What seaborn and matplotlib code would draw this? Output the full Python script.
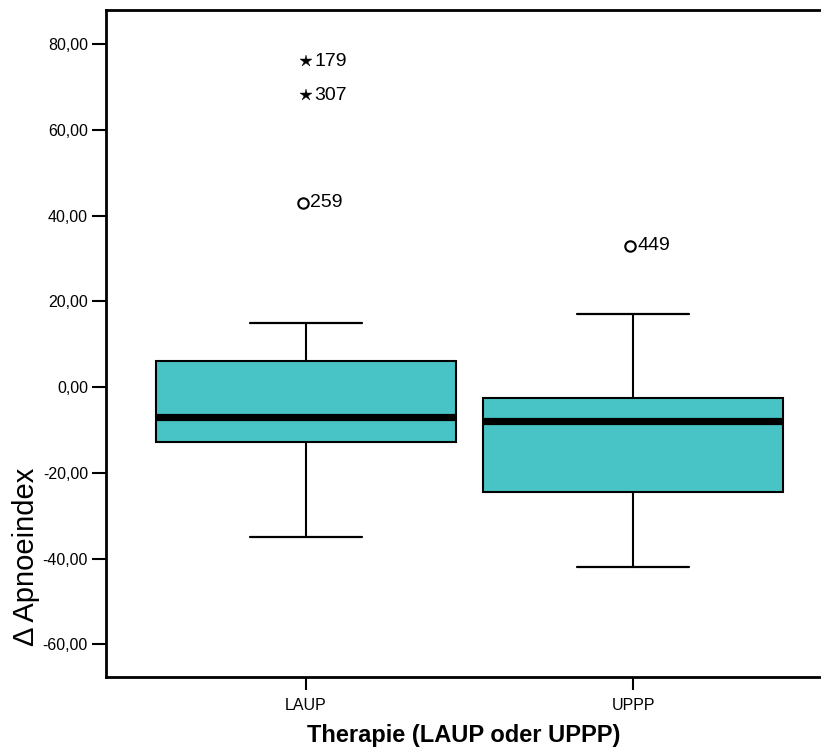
# plot.py
# SPSS-style boxplot: change of apnoea index by therapy (LAUP vs UPPP)

import numpy as np
import pandas as pd
import matplotlib.pyplot as plt
import seaborn as sns
from matplotlib.ticker import FuncFormatter

# Box summaries
groups = ["LAUP", "UPPP"]
whislo = [-35.0, -42.0]
q1 = [-12.9, -24.5]
med = [-7.0, -8.0]
q3 = [6.0, -2.6]
whishi = [15.0, 17.0]

# Outliers (o) and extremes (*) with their case numbers
out_group = ["LAUP", "LAUP", "LAUP", "UPPP"]
out_value = [76.0, 68.0, 43.0, 33.0]
out_case = ["179", "307", "259", "449"]
out_kind = ["extreme", "extreme", "outlier", "outlier"]

yticks = [-60, -40, -20, 0, 20, 40, 60, 80]

sns.set_style("ticks")
plt.rcParams["font.family"] = ["Liberation Sans", "DejaVu Sans"]
for k in ["text.color", "axes.labelcolor", "xtick.color", "ytick.color"]:
    plt.rcParams[k] = "black"

fig = plt.figure(figsize=(8.21, 7.47), dpi=100)
ax = fig.add_axes([0.1291, 0.0937, 0.8709, 0.8929])

stats = [
    {"label": g, "whislo": lo, "q1": a, "med": m, "q3": b, "whishi": hi}
    for g, lo, a, m, b, hi in zip(groups, whislo, q1, med, q3, whishi)
]
pos = np.arange(len(groups))
ax.bxp(
    stats, positions=pos, widths=0.92, capwidths=0.34, patch_artist=True,
    showfliers=False,
    boxprops=dict(facecolor="#48c4c6", edgecolor="black", linewidth=1.5),
    medianprops=dict(color="black", linewidth=5.2, solid_capstyle="butt"),
    whiskerprops=dict(color="black", linewidth=1.5),
    capprops=dict(color="black", linewidth=1.6),
)

df = pd.DataFrame({"group": out_group, "value": out_value,
                   "case": out_case, "kind": out_kind})
df["x"] = df["group"].map({g: i for i, g in enumerate(groups)})

for _, r in df.iterrows():
    if r["kind"] == "extreme":
        ax.plot(r["x"], r["value"], marker="*", ms=9, color="black", mew=0.3)
        off = 6
    else:
        ax.plot(r["x"] - 0.01, r["value"], marker="o", ms=7.5, mfc="white",
                mec="black", mew=1.5)
        off = 3
    ax.annotate(r["case"], (r["x"], r["value"]), xytext=(off, 0),
                textcoords="offset points", va="center", ha="left",
                fontsize=14)

ax.set_xlim(-0.612, 1.575)
ax.set_ylim(-67.64, 87.93)
ax.set_xticks(pos)
ax.set_xticklabels(groups, fontsize=11.5)
ax.set_yticks(yticks)
ax.yaxis.set_major_formatter(FuncFormatter(lambda v, p: f"{v:.2f}".replace(".", ",")))
ax.tick_params(axis="y", labelsize=11.5, length=10, width=1.5, pad=3)
ax.tick_params(axis="x", length=9, width=1.5, pad=6)

for s in ["left", "bottom", "top"]:
    ax.spines[s].set_linewidth(2)
    ax.spines[s].set_color("black")
ax.spines["right"].set_visible(False)

ax.set_xlabel("Therapie (LAUP oder UPPP)", fontsize=17, fontweight="bold")
ax.xaxis.set_label_coords(0.5, -0.071)
ax.set_ylabel("Δ Apnoeindex", fontsize=21)
ax.yaxis.set_label_coords(-0.092, 0.18)

fig.savefig("out.png", dpi=100)
plt.close(fig)
